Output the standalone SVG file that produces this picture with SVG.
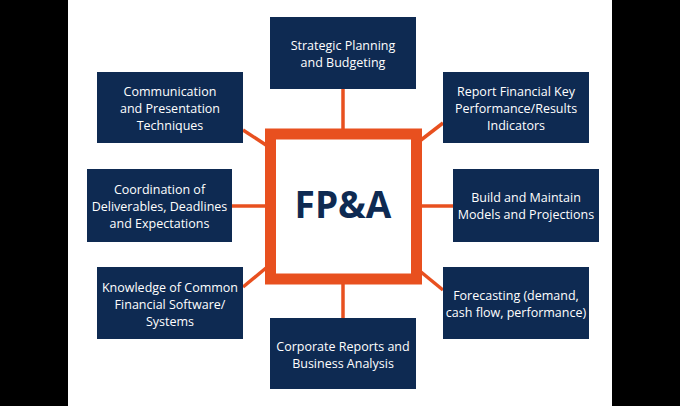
<svg xmlns="http://www.w3.org/2000/svg" width="680" height="406" viewBox="0 0 680 406">
<style>
.b{fill:#0e2a52}
.t{fill:#fff;font-family:"Open Sans","Liberation Sans",sans-serif;font-size:12.5px;text-anchor:middle}
.c{stroke:#e8501f;stroke-width:3.5;fill:none}
</style>
<rect width="680" height="406" fill="#fff"/>
<rect x="0" y="0" width="68" height="406" fill="#000"/>
<rect x="612" y="0" width="68" height="406" fill="#000"/>
<g id="connectors">
<line class="c" x1="343" y1="89" x2="343" y2="130"/>
<line class="c" x1="343" y1="284" x2="343" y2="318"/>
<line class="c" x1="232" y1="206" x2="266" y2="206"/>
<line class="c" x1="421" y1="206" x2="453" y2="206"/>
<line class="c" x1="243" y1="130" x2="266" y2="145"/>
<line class="c" x1="443" y1="123" x2="421" y2="140"/>
<line class="c" x1="243" y1="287" x2="266" y2="268"/>
<line class="c" x1="443" y1="290" x2="421" y2="272"/>
</g>
<g id="center">
<rect x="270.5" y="134" width="146" height="145" fill="#fff" stroke="#e8501f" stroke-width="11"/>
<text x="343" y="218" fill="#0e2a52" font-family="'Open Sans','Liberation Sans',sans-serif" font-weight="bold" font-size="37" text-anchor="middle">FP&amp;A</text>
</g>
<g id="n1"><rect class="b" x="270" y="17" width="146" height="72"/><text class="t" x="343" y="50">Strategic Planning</text><text class="t" x="343" y="67">and Budgeting</text></g>
<g id="n2"><rect class="b" x="97" y="72" width="146" height="71"/><text class="t" x="170" y="96">Communication</text><text class="t" x="170" y="113">and Presentation</text><text class="t" x="170" y="130">Techniques</text></g>
<g id="n3"><rect class="b" x="443" y="72" width="146" height="71"/><text class="t" x="516" y="96">Report Financial Key</text><text class="t" x="516" y="113">Performance/Results</text><text class="t" x="516" y="130">Indicators</text></g>
<g id="n4"><rect class="b" x="87" y="169" width="145" height="73"/><text class="t" x="159.5" y="194">Coordination of</text><text class="t" x="159.5" y="211">Deliverables, Deadlines</text><text class="t" x="159.5" y="228">and Expectations</text></g>
<g id="n5"><rect class="b" x="453" y="169" width="146" height="73"/><text class="t" x="526" y="202">Build and Maintain</text><text class="t" x="526" y="219">Models and Projections</text></g>
<g id="n6"><rect class="b" x="97" y="267" width="146" height="72"/><text class="t" x="170" y="292">Knowledge of Common</text><text class="t" x="170" y="309">Financial Software/</text><text class="t" x="170" y="326">Systems</text></g>
<g id="n7"><rect class="b" x="443" y="267" width="146" height="72"/><text class="t" x="516" y="300">Forecasting (demand,</text><text class="t" x="516" y="317">cash flow, performance)</text></g>
<g id="n8"><rect class="b" x="270" y="318" width="146" height="71"/><text class="t" x="343" y="351">Corporate Reports and</text><text class="t" x="343" y="368">Business Analysis</text></g>
</svg>
